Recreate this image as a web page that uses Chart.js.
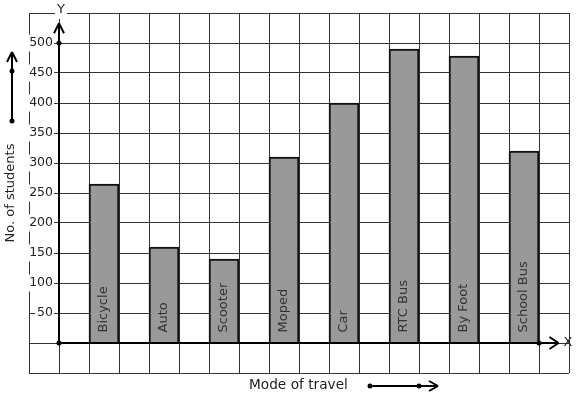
<!DOCTYPE html>
<html>
<head>
<meta charset="utf-8">
<script src="https://cdn.jsdelivr.net/npm/chart.js@4"></script>
<style>
  html, body { margin: 0; padding: 0; background: #fff; }
</style>
</head>
<body>
<canvas id="travelChart" width="577" height="399"></canvas>
<script>
// data
const modes = ["Bicycle", "Auto", "Scooter", "Moped", "Car", "RTC Bus", "By Foot", "School Bus"];
const students = [265, 160, 140, 310, 400, 490, 478, 320];
const yTickLabels = [50, 100, 150, 200, 250, 300, 350, 400, 450, 500];

const canvas = document.getElementById("travelChart");
const FONT = '"DejaVu Sans", sans-serif';

// each mode takes two grid cells, bar sits in the second one
const barData = students.map((v, i) => ({ x: 2 * i + 1.5, y: v }));

function dot(ctx, px, py) {
  ctx.beginPath();
  ctx.arc(px, py, 2.5, 0, Math.PI * 2);
  ctx.fill();
}

function line(ctx, x1, y1, x2, y2) {
  ctx.beginPath();
  ctx.moveTo(x1, y1);
  ctx.lineTo(x2, y2);
  ctx.stroke();
}

const overlay = {
  id: "overlay",
  afterDatasetsDraw(chart) {
    const { ctx, scales: { x, y } } = chart;
    const ox = x.getPixelForValue(0);
    const oy = y.getPixelForValue(0);

    // labels inside the bars
    ctx.save();
    ctx.font = "13px " + FONT;
    ctx.fillStyle = "#333";
    ctx.textAlign = "left";
    ctx.textBaseline = "middle";
    chart.getDatasetMeta(0).data.forEach((bar, i) => {
      ctx.save();
      ctx.translate(bar.x, bar.base - 10);
      ctx.rotate(-Math.PI / 2);
      ctx.fillText(modes[i], 0, 0);
      ctx.restore();
    });
    ctx.restore();

    // axes with arrows
    ctx.save();
    ctx.strokeStyle = "#000";
    ctx.fillStyle = "#000";
    ctx.lineWidth = 2;
    const xEnd = x.getPixelForValue(16.65);
    const yEnd = y.getPixelForValue(533);
    line(ctx, ox, oy, xEnd, oy);
    line(ctx, xEnd - 9, oy - 6, xEnd, oy);
    line(ctx, xEnd - 9, oy + 6, xEnd, oy);
    line(ctx, ox, oy, ox, yEnd);
    line(ctx, ox - 5, yEnd + 10, ox, yEnd);
    line(ctx, ox + 5, yEnd + 10, ox, yEnd);
    dot(ctx, ox, oy);
    dot(ctx, ox, y.getPixelForValue(500));
    dot(ctx, x.getPixelForValue(16), oy);

    // axis letters
    ctx.font = "13px " + FONT;
    ctx.textAlign = "center";
    ctx.textBaseline = "middle";
    ctx.fillStyle = "#fff";
    ctx.fillRect(ox - 4, chart.chartArea.top - 6, 12, 12);
    ctx.fillStyle = "#222";
    ctx.fillText("Y", ox + 2, chart.chartArea.top - 3);
    ctx.fillText("X", x.getPixelForValue(17) - 1, oy);

    // axis titles with their arrows
    ctx.save();
    ctx.translate(11, 193);
    ctx.rotate(-Math.PI / 2);
    ctx.fillText("No. of students", 0, 0);
    ctx.restore();
    ctx.font = "13.7px " + FONT;
    ctx.textAlign = "left";
    ctx.fillText("Mode of travel", 249, 385);

    ctx.fillStyle = "#000";
    line(ctx, 12, 121, 12, 52);
    line(ctx, 7, 62, 12, 52);
    line(ctx, 17, 62, 12, 52);
    dot(ctx, 12, 121);
    dot(ctx, 12, 71);

    line(ctx, 370, 386, 438, 386);
    line(ctx, 429, 381, 438, 386);
    line(ctx, 429, 391, 438, 386);
    dot(ctx, 370, 386);
    dot(ctx, 419, 386);
    ctx.restore();
  }
};

new Chart(canvas, {
  type: "bar",
  data: {
    datasets: [{
      label: "No. of students",
      data: barData,
      backgroundColor: "#999999",
      borderColor: "#111",
      borderWidth: 2,
      borderSkipped: "start",
      barPercentage: 1,
      categoryPercentage: 1
    }]
  },
  options: {
    responsive: false,
    animation: false,
    devicePixelRatio: 1,
    layout: { padding: { left: 29, right: 8, top: 13, bottom: 26 } },
    plugins: {
      legend: { display: false },
      tooltip: { enabled: false }
    },
    scales: {
      x: {
        type: "linear",
        min: -1,
        max: 17,
        offset: false,
        position: { y: 0 },
        ticks: { display: false, stepSize: 1 },
        grid: { color: "#333", lineWidth: 1, drawTicks: false, offset: false },
        border: { display: false }
      },
      y: {
        type: "linear",
        min: -50,
        max: 550,
        // labels sit a little left of the y axis line
        position: { x: -0.2 },
        ticks: {
          stepSize: 50,
          color: "#222",
          font: { family: FONT, size: 12.5 },
          callback: v => yTickLabels.includes(v) ? String(v) : "",
          showLabelBackdrop: true,
          backdropColor: c => yTickLabels.includes(c.tick && c.tick.value) ? "#fff" : "rgba(0,0,0,0)",
          backdropPadding: { top: 1, bottom: 1, left: 2, right: 1 }
        },
        grid: { color: "#333", lineWidth: 1, drawTicks: false },
        border: { display: false }
      }
    }
  },
  plugins: [overlay]
});
</script>
</body>
</html>
